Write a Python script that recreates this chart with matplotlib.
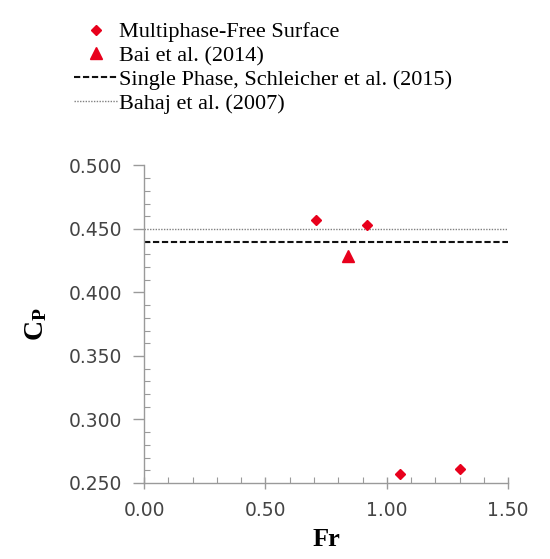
import matplotlib.pyplot as plt
from matplotlib.ticker import MultipleLocator, FormatStrFormatter

# data
fr_multiphase = [0.71, 0.92, 1.053, 1.30]
cp_multiphase = [0.457, 0.453, 0.257, 0.261]
fr_bai = [0.84]
cp_bai = [0.429]
cp_single_phase = 0.44
cp_bahaj = 0.45
x_limits = [0.0, 1.5]

red = '#e8001c'
serif = ['Liberation Serif', 'DejaVu Serif']

fig = plt.figure(figsize=(5.5, 5.59), dpi=100)
ax = fig.add_axes([0.262, 0.136, 0.662, 0.568])

ax.plot(fr_multiphase, cp_multiphase, linestyle='none', marker='D', markersize=5,
        color=red, label='Multiphase-Free Surface', zorder=3)
ax.plot(fr_bai, cp_bai, linestyle='none', marker='^', markersize=8.5,
        color=red, label='Bai et al. (2014)', zorder=3)
ax.plot(x_limits, [cp_single_phase] * 2, color='#111111', linestyle=(0, (3, 1.3)),
        linewidth=1.5, label='Single Phase, Schleicher et al. (2015)')
ax.plot(x_limits, [cp_bahaj] * 2, color='#808080', linestyle=(0, (1, 1)),
        linewidth=1.0, label='Bahaj et al. (2007)')

ax.set_xlim(0, 1.5)
ax.set_ylim(0.25, 0.5)
ax.xaxis.set_major_locator(MultipleLocator(0.5))
ax.xaxis.set_minor_locator(MultipleLocator(0.1))
ax.yaxis.set_major_locator(MultipleLocator(0.05))
ax.yaxis.set_minor_locator(MultipleLocator(0.01))
ax.xaxis.set_major_formatter(FormatStrFormatter('%.2f'))
ax.yaxis.set_major_formatter(FormatStrFormatter('%.3f'))

for side in ['top', 'right']:
    ax.spines[side].set_visible(False)
for side in ['left', 'bottom']:
    ax.spines[side].set_color('#9a9a9a')
    ax.spines[side].set_linewidth(1.0)

ax.tick_params(which='major', direction='out', length=8, width=1.0, color='#9a9a9a',
               labelsize=13.5, labelcolor='#444444')
ax.tick_params(which='minor', direction='in', length=4, width=0.8, color='#9a9a9a')
ax.tick_params(axis='x', which='major', direction='inout', length=8, pad=9)
ax.tick_params(axis='y', which='major', pad=8)

ax.set_xlabel('Fr', fontsize=19, fontweight='bold', family=serif, labelpad=6)
ax.set_ylabel(r'$\mathregular{C_P}$', fontsize=20, fontweight='bold', family=serif, labelpad=14)

leg = fig.legend(loc='upper left', bbox_to_anchor=(0.114, 0.981), frameon=False,
                 prop={'family': serif, 'size': 16}, handlelength=2.0,
                 handletextpad=0.05, labelspacing=0.15, borderpad=0)

fig.savefig('out.png', dpi=100)
